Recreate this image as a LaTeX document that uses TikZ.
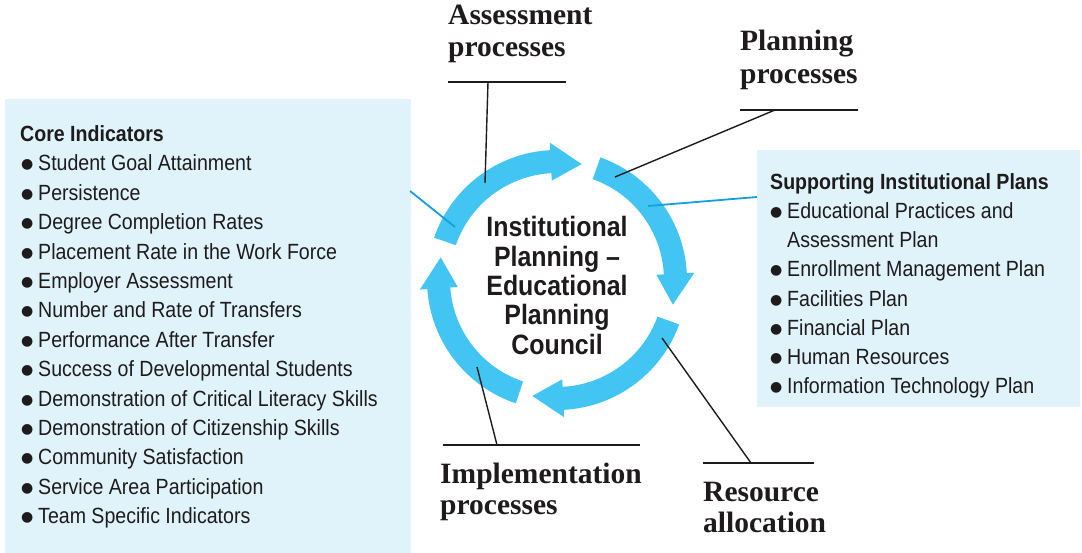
\documentclass[tikz,border=0pt]{standalone}
\usepackage{fontspec}
\setmainfont{Liberation Sans}[FakeStretch=0.89]
\newfontfamily\lblfont{Liberation Serif}
\newfontfamily\bulfont{DejaVu Sans}
\definecolor{ringc}{RGB}{66,197,242}
\definecolor{boxbg}{RGB}{224,243,251}
\definecolor{linkc}{RGB}{20,160,220}
\definecolor{ink}{RGB}{30,27,28}
\newcommand{\bigbul}{\makebox[17pt][l]{\raisebox{2pt}{\bulfont\fontsize{14}{14}\selectfont ●}}}
\tikzset{
  item/.style={font=\fontsize{22}{26}\selectfont, text=ink, inner sep=0pt, anchor=base west},
  head/.style={item, font=\fontsize{22}{26}\selectfont\bfseries},
  ctext/.style={font=\fontsize{28}{30}\selectfont\bfseries, text=ink, inner sep=0pt, anchor=base},
  lbl/.style={font=\fontsize{29.5}{32}\selectfont\lblfont\bfseries, text=ink, inner sep=0pt, anchor=base west},
  rule/.style={draw=ink, line width=1.4pt},
  bluelink/.style={draw=linkc, line width=1.8pt},
  panel/.style={fill=boxbg, draw=none}
}
\begin{document}
\begin{tikzpicture}[x=1pt,y=-1pt]
\useasboundingbox (0,0) rectangle (1082,553);
\fill[white] (0,0) rectangle (1082,553);
% panels
\fill[panel] (5,99) rectangle (411,553);
\fill[panel] (757,150) rectangle (1080,407);
% ring arrows
\begin{scope}[shift={(557,280)}, yscale=-1]
  \def\ro{130}\def\ri{107}\def\rm{118.5}\def\rho{137.5}\def\rhi{99.5}
  \foreach \a/\e in {161/78, 70.5/-12, -20/-102, -108.5/-191}{
    \pgfmathsetmacro{\b}{\e+15}
    \fill[ringc] (\a:\ro) arc[start angle=\a, end angle=\b, radius=\ro]
      -- (\b:\rho) -- (\e:\rm) -- (\b:\rhi) -- (\b:\ri)
      arc[start angle=\b, end angle=\a, radius=\ri] -- cycle;
  }
\end{scope}
% center text
\foreach \t/\y [count=\i] in {Institutional/237, Planning –/266.3, Educational/295.6, Planning/324.9, Council/354.2}
  \node[ctext] (C\i) at (557,\y) {\t};
% left panel
\node[head] (coreh) at (20,141.5) {Core Indicators};
\foreach \t [count=\i from 0] in {Student Goal Attainment, Persistence, Degree Completion Rates, Placement Rate in the Work Force, Employer Assessment, Number and Rate of Transfers, Performance After Transfer, Success of Developmental Students, Demonstration of Critical Literacy Skills, Demonstration of Citizenship Skills, Community Satisfaction, Service Area Participation, Team Specific Indicators}
  \node[item] (L\i) at (21,{170.9+29.4*\i}) {\bigbul\t};
% right panel
\node[head] (supph) at (770,189.5) {Supporting Institutional Plans};
\node[item] (R0) at (770,218.5) {\bigbul Educational Practices and};
\node[item] (R1) at (787,247.7) {Assessment Plan};
\foreach \t [count=\i from 2] in {Enrollment Management Plan, Facilities Plan, Financial Plan, Human Resources, Information Technology Plan}
  \node[item] (R\i) at (770,{218.5+29.2*(\i)}) {\bigbul\t};
% serif labels
\node[lbl] (assA) at (448,25) {Assessment};
\node[lbl] (assB) at (448,57) {processes};
\node[lbl] (plnA) at (740,51) {Planning};
\node[lbl] (plnB) at (740,84) {processes};
\node[lbl] (impA) at (440,483) {Implementation};
\node[lbl] (impB) at (440,514) {processes};
\node[lbl] (resA) at (703,501) {Resource};
\node[lbl] (resB) at (703,532) {allocation};
% rules and connectors
\coordinate (assL) at (448,82); \coordinate (assR) at (566,82); \coordinate (assJ) at (488,82); \coordinate (assE) at (485,183);
\coordinate (plnL) at (740,110); \coordinate (plnR) at (858,110); \coordinate (plnJ) at (775,110); \coordinate (plnE) at (615,177);
\coordinate (impL) at (443,445); \coordinate (impR) at (640,445); \coordinate (impJ) at (497,445); \coordinate (impE) at (477,367);
\coordinate (resL) at (703,463); \coordinate (resR) at (814,463); \coordinate (resJ) at (751,463); \coordinate (resE) at (662,338);
\draw[rule] (assL) -- (assR); \draw[rule] (assJ) -- (assE);
\draw[rule] (plnL) -- (plnR); \draw[rule] (plnJ) -- (plnE);
\draw[rule] (impL) -- (impR); \draw[rule] (impJ) -- (impE);
\draw[rule] (resL) -- (resR); \draw[rule] (resJ) -- (resE);
\coordinate (lbS) at (410,191); \coordinate (lbE) at (455,227);
\coordinate (rbS) at (757,197); \coordinate (rbE) at (648,206);
\draw[bluelink] (lbS) -- (lbE);
\draw[bluelink] (rbS) -- (rbE);
\end{tikzpicture}
\end{document}
